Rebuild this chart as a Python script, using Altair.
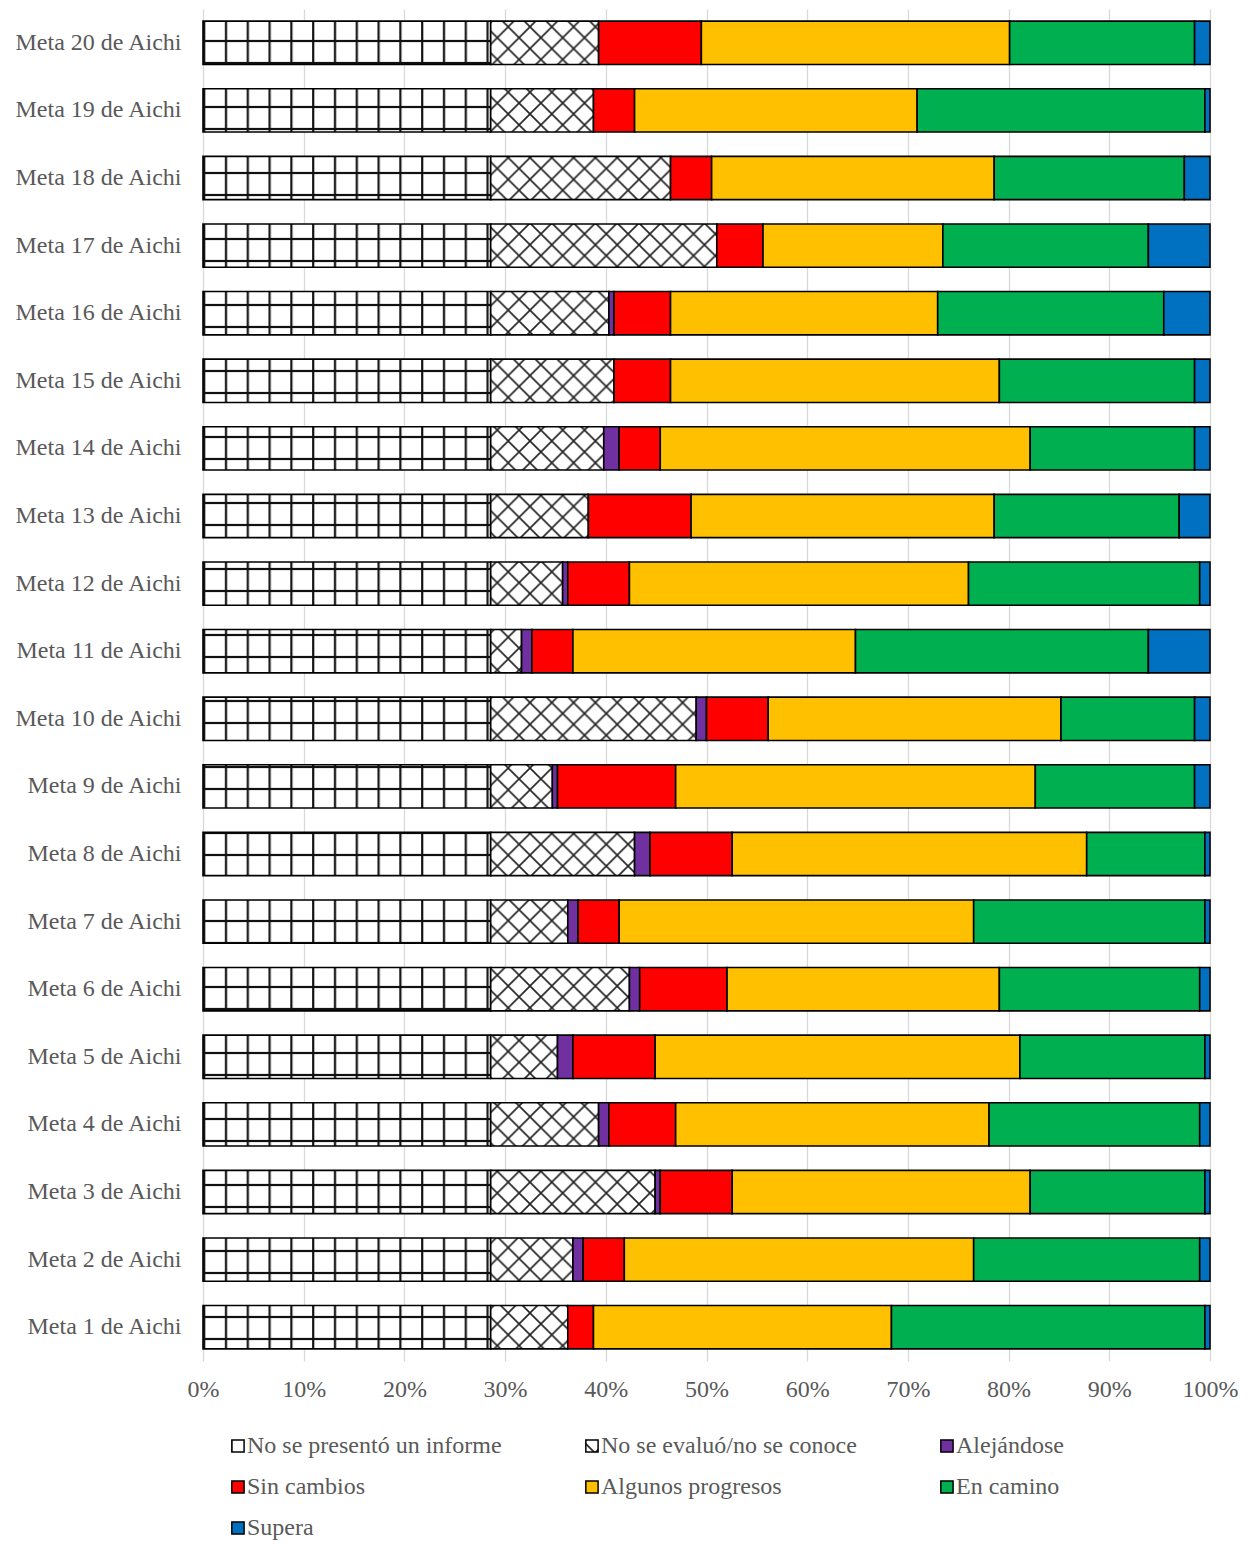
import altair as alt
import pandas as pd

# ---------------- data (counts out of 196 reporting Parties) ----------------
metas = [
    "Meta 1 de Aichi", "Meta 2 de Aichi", "Meta 3 de Aichi", "Meta 4 de Aichi", "Meta 5 de Aichi",
    "Meta 6 de Aichi", "Meta 7 de Aichi", "Meta 8 de Aichi", "Meta 9 de Aichi", "Meta 10 de Aichi",
    "Meta 11 de Aichi", "Meta 12 de Aichi", "Meta 13 de Aichi", "Meta 14 de Aichi", "Meta 15 de Aichi",
    "Meta 16 de Aichi", "Meta 17 de Aichi", "Meta 18 de Aichi", "Meta 19 de Aichi", "Meta 20 de Aichi",
]
categories = [
    "No se presentó un informe", "No se evaluó/no se conoce", "Alejándose", "Sin cambios",
    "Algunos progresos", "En camino", "Supera",
]
no_informe = [56, 56, 56, 56, 56, 56, 56, 56, 56, 56, 56, 56, 56, 56, 56, 56, 56, 56, 56, 56]
no_evaluo = [15, 16, 32, 21, 13, 27, 15, 28, 12, 40, 6, 14, 19, 22, 24, 23, 44, 35, 20, 21]
alejandose = [0, 2, 1, 2, 3, 2, 2, 3, 1, 2, 2, 1, 0, 3, 0, 1, 0, 0, 0, 0]
sin_cambios = [5, 8, 14, 13, 16, 17, 8, 16, 23, 12, 8, 12, 20, 8, 11, 11, 9, 8, 8, 20]
algunos = [58, 68, 58, 61, 71, 53, 69, 69, 70, 57, 55, 66, 59, 72, 64, 52, 35, 55, 55, 60]
en_camino = [61, 44, 34, 41, 36, 39, 45, 23, 31, 26, 57, 45, 36, 32, 38, 44, 40, 37, 56, 36]
supera = [1, 2, 1, 2, 1, 2, 1, 1, 3, 3, 12, 2, 6, 3, 3, 9, 12, 5, 1, 3]
x_ticks = [0, 0.1, 0.2, 0.3, 0.4, 0.5, 0.6, 0.7, 0.8, 0.9, 1.0]

series = [no_informe, no_evaluo, alejandose, sin_cambios, algunos, en_camino, supera]

# ---------------- fills: SVG patterns for the two "unknown" classes ----------------
DEFS = """
<svg width="0" height="0" style="position:absolute;left:0;top:0;overflow:hidden" aria-hidden="true">
  <defs>
    <pattern id="pgrid" patternUnits="userSpaceOnUse" width="21.8" height="22">
      <rect x="0" y="0" width="21.8" height="22" fill="#ffffff"/>
      <line x1="1.2" y1="-1" x2="1.2" y2="23" stroke="#111111" stroke-width="2.2"/>
      <line x1="-1" y1="10" x2="23" y2="10" stroke="#111111" stroke-width="2.2"/>
    </pattern>
    <pattern id="pcross" patternUnits="userSpaceOnUse" width="21.8" height="21.8" x="0" y="-4">
      <rect x="0" y="0" width="21.8" height="21.8" fill="#ffffff"/>
      <path d="M0,0L21.8,21.8M21.8,0L0,21.8" stroke="#222222" stroke-width="1.6" stroke-linecap="square" fill="none"/>
    </pattern>
  </defs>
</svg>
"""

GRID_FILL, CROSS_FILL = "#ffffff", "#e6e6e6"
try:
    import altair.utils.html as _ah

    _tpls = []
    if hasattr(_ah, "TEMPLATES"):
        _tpls.extend(list(_ah.TEMPLATES.values()))
    if hasattr(_ah, "HTML_TEMPLATE"):
        _tpls.append(_ah.HTML_TEMPLATE)
    _seen = set()
    for _t in _tpls:
        if id(_t) in _seen or not hasattr(_t, "render"):
            continue
        _seen.add(id(_t))

        def _make(orig):
            def _render(*a, **k):
                html = orig(*a, **k)
                if "<body>" in html:
                    return html.replace("<body>", "<body>\n" + DEFS, 1)
                return DEFS + html
            return _render

        _t.render = _make(_t.render)
    if _seen:
        GRID_FILL, CROSS_FILL = "url(#pgrid)", "url(#pcross)"
except Exception:
    pass

fills = [GRID_FILL, CROSS_FILL, "#7030A0", "#FF0000", "#FFC000", "#00B050", "#0070C0"]

rows = []
for ci, (cat, vals) in enumerate(zip(categories, series)):
    for meta, v in zip(metas, vals):
        rows.append({"meta": meta, "cat": cat, "n": v, "ord": ci})
df = pd.DataFrame(rows)

FONT = "Liberation Serif"
GREY = "#595959"

chart = (
    alt.Chart(df)
    .transform_filter(alt.datum.n > 0)
    .mark_bar(stroke="#000000", strokeWidth=1.6)
    .encode(
        y=alt.Y(
            "meta:N",
            sort=list(reversed(metas)),
            scale=alt.Scale(paddingInner=0.36, paddingOuter=0.18),
            axis=alt.Axis(
                title=None, ticks=False, domain=False, labelFont=FONT, labelFontSize=24,
                labelColor=GREY, labelPadding=22, labelLimit=400,
            ),
        ),
        x=alt.X(
            "n:Q",
            stack="normalize",
            scale=alt.Scale(domain=[0, 1], nice=False),
            axis=alt.Axis(
                title=None, format=".0%", values=x_ticks, ticks=False, domain=False,
                labelFont=FONT, labelFontSize=24, labelColor=GREY, labelPadding=16,
                labelFlush=False, labelOverlap=False,
                grid=True, gridColor="#d9d9d9", gridWidth=1.3,
            ),
        ),
        color=alt.Color(
            "cat:N",
            scale=alt.Scale(domain=categories, range=fills),
            legend=alt.Legend(
                title=None, orient="none", legendX=15, legendY=1425, columns=3,
                direction="horizontal", symbolType="M0.3,-1h2v2h-2Z", symbolSize=150,
                symbolStrokeColor="#000000", symbolStrokeWidth=1.5, symbolOpacity=1,
                labelFont=FONT, labelFontSize=24, labelColor=GREY, labelOffset=5,
                columnPadding=70, rowPadding=17, padding=0, labelLimit=400,
            ),
        ),
        order=alt.Order("ord:Q"),
    )
    .properties(width=1007, height=1352, padding={"left": 5, "top": 1, "right": 0, "bottom": 2})
    .configure_view(stroke=None)
)

chart.save("out.html", embed_options={"renderer": "svg", "actions": False})
